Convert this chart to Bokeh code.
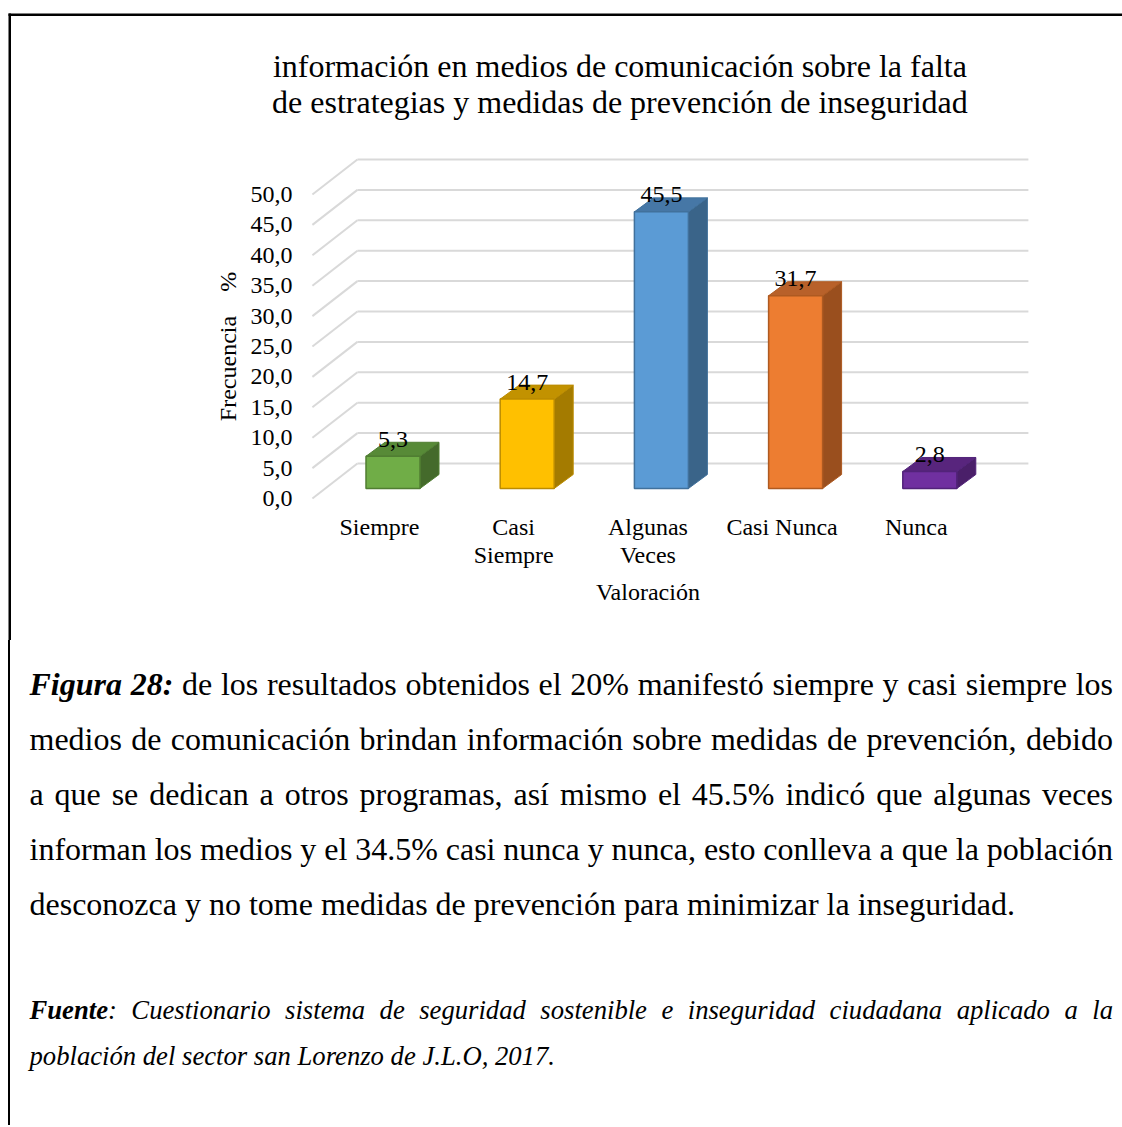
import math
from bokeh.plotting import figure
from bokeh.models import Range1d, BoxAnnotation, Div
from bokeh.layouts import column
from bokeh.core.properties import value
from bokeh.embed import file_html
from bokeh.resources import INLINE

# ---------------- data ----------------
title_lines = ["información en medios de comunicación sobre la falta",
               "de estrategias y medidas de prevención de inseguridad"]
categories = ["Siempre", "Casi Siempre", "Algunas Veces", "Casi Nunca", "Nunca"]
category_label_lines = [["Siempre"], ["Casi", "Siempre"], ["Algunas", "Veces"],
                        ["Casi Nunca"], ["Nunca"]]
frequencies = [5.3, 14.7, 45.5, 31.7, 2.8]
frequency_labels = ["5,3", "14,7", "45,5", "31,7", "2,8"]
y_ticks = [0.0, 5.0, 10.0, 15.0, 20.0, 25.0, 30.0, 35.0, 40.0, 45.0, 50.0]
y_tick_labels = ["0,0", "5,0", "10,0", "15,0", "20,0", "25,0", "30,0",
                 "35,0", "40,0", "45,0", "50,0"]
y_axis_title = "Frecuencia\u00a0\u00a0\u00a0\u00a0%"
x_axis_title = "Valoración"

front_colors = ["#70AD47", "#FFC000", "#5B9BD5", "#ED7D31", "#7030A0"]
top_colors = ["#578A37", "#C29200", "#4677A6", "#B8612A", "#58257D"]
side_colors = ["#446A2B", "#A47B00", "#3A6489", "#9A4F1E", "#4A1F69"]
edge_colors = ["#507E32", "#BC8C00", "#41719C", "#AE5A21", "#52237A"]

caption_lines = [
    "de los resultados obtenidos el 20% manifestó siempre y casi siempre los",
    "medios de comunicación brindan información sobre medidas de prevención, debido",
    "a que se dedican a otros programas, así mismo el 45.5% indicó que algunas veces",
    "informan los medios y el 34.5% casi nunca y nunca, esto conlleva a que la población",
    "desconozca y no tome medidas de prevención para minimizar la inseguridad.",
]
caption_lead = "Figura 28:"
source_lead = "Fuente"
source_lines = [
    ": Cuestionario sistema de seguridad sostenible e inseguridad ciudadana aplicado a la",
    "población del sector san Lorenzo de J.L.O, 2017.",
]

# ---------------- layout constants (pixels) ----------------
W, HF, HD = 1122, 640, 485
PX_CAT = 134.2      # pixels per category step
PX_VAL = 6.08       # pixels per percentage point
ORIGIN_X = 379.0    # canvas x of category 0 on the front plane
ORIGIN_Y = 498.0    # canvas y (from top) of 0 % on the front plane

def cx(px):
    return px / PX_CAT

def cy(px):
    return px / PX_VAL

WALL_DX, WALL_DY = cx(45), cy(35)
BAR_SX, BAR_SY = cx(13.5), cy(10)
BAR_DX, BAR_DY = cx(19), cy(14)
BAR_HW = cx(27)

FONT = value("Liberation Serif")

p = figure(width=W, height=HF, output_backend="svg", toolbar_location=None,
           x_range=Range1d(-ORIGIN_X / PX_CAT, (W - ORIGIN_X) / PX_CAT),
           y_range=Range1d(-(HF - ORIGIN_Y) / PX_VAL, ORIGIN_Y / PX_VAL),
           min_border=0, min_border_left=0, min_border_right=0,
           min_border_top=0, min_border_bottom=0)
p.axis.visible = False
p.grid.visible = False
p.outline_line_color = None
p.background_fill_color = "white"
p.border_fill_color = "white"

n = len(categories)
x_left, x_right = -0.5, n - 0.5

# back wall gridlines and side wall diagonals
p.multi_line(xs=[[x_left + WALL_DX, x_right + WALL_DX] for _ in y_ticks],
             ys=[[t + WALL_DY, t + WALL_DY] for t in y_ticks],
             line_color="#d9d9d9", line_width=2)
p.multi_line(xs=[[x_left, x_left + WALL_DX] for _ in y_ticks],
             ys=[[t, t + WALL_DY] for t in y_ticks],
             line_color="#d9d9d9", line_width=2)

# 3D bars
side_xs, side_ys, top_xs, top_ys = [], [], [], []
for i, v in enumerate(frequencies):
    l = i + BAR_SX - BAR_HW
    r = i + BAR_SX + BAR_HW
    b = BAR_SY
    t = v + BAR_SY
    side_xs.append([r, r + BAR_DX, r + BAR_DX, r])
    side_ys.append([b, b + BAR_DY, t + BAR_DY, t])
    top_xs.append([l, r, r + BAR_DX, l + BAR_DX])
    top_ys.append([t, t, t + BAR_DY, t + BAR_DY])

p.patches(xs=side_xs, ys=side_ys, fill_color=side_colors,
          line_color=edge_colors, line_width=1)
p.patches(xs=top_xs, ys=top_ys, fill_color=top_colors,
          line_color=edge_colors, line_width=1)
p.quad(left=[i + BAR_SX - BAR_HW for i in range(n)],
       right=[i + BAR_SX + BAR_HW for i in range(n)],
       bottom=[BAR_SY] * n,
       top=[v + BAR_SY for v in frequencies],
       fill_color=front_colors, line_color=edge_colors, line_width=1.5)

# value labels
p.text(x=[i + BAR_SX for i in range(n)],
       y=[v + BAR_SY + BAR_DY for v in frequencies],
       text=frequency_labels, text_font=FONT, text_font_size="24px",
       text_align="center", text_baseline="alphabetic", y_offset=-3,
       text_color="#000000")

# y tick labels
p.text(x=[x_left] * len(y_ticks), y=y_ticks, text=y_tick_labels,
       x_offset=-20, text_font=FONT, text_font_size="24px",
       text_align="right", text_baseline="middle", text_color="#000000")

# category labels
cl_x, cl_off, cl_txt = [], [], []
for i, lines in enumerate(category_label_lines):
    for k, line in enumerate(lines):
        cl_x.append(i)
        cl_off.append(28 + 28 * k)
        cl_txt.append(line)
p.text(x=cl_x, y=[0] * len(cl_x), y_offset=cl_off, text=cl_txt,
       text_font=FONT, text_font_size="24px", text_align="center",
       text_baseline="middle", text_color="#000000")

# axis titles
p.text(x=[(n - 1) / 2], y=[0], y_offset=[93], text=[x_axis_title],
       text_font=FONT, text_font_size="24px", text_align="center",
       text_baseline="middle", text_color="#000000")
p.text(x=[x_left], y=[(y_ticks[0] + y_ticks[-1]) / 2], x_offset=[-84],
       text=[y_axis_title], angle=math.pi / 2, text_font=FONT,
       text_font_size="24px", text_align="center", text_baseline="middle",
       text_color="#000000")

# chart title
p.text(x=[(n - 1) / 2, (n - 1) / 2], y=[p.y_range.end] * 2,
       x_offset=[-28, -28], y_offset=[65, 101], text=title_lines,
       text_font=FONT, text_font_size="32px", text_align="center",
       text_baseline="middle", text_color="#000000")

# page frame (top and left border)
x0 = p.x_range.start
y1 = p.y_range.end
p.add_layout(BoxAnnotation(left=x0 + cx(8), right=p.x_range.end,
                           top=y1 - cy(13), bottom=y1 - cy(15.5),
                           fill_color="black", fill_alpha=1, line_alpha=0))
p.add_layout(BoxAnnotation(left=x0 + cx(8), right=x0 + cx(10.5),
                           top=y1 - cy(13), bottom=p.y_range.start,
                           fill_color="black", fill_alpha=1, line_alpha=0))

# ---------------- caption (justified text) ----------------
def jline(txt, last=False, lead=""):
    align = "left" if last else "justify"
    ws = "0px" if last else "-3px"
    return (f'<div style="text-align:justify;text-align-last:{align};'
            f'word-spacing:{ws};white-space:normal;">{lead}{txt}</div>')

cap_html = "".join(
    jline(t, last=(k == len(caption_lines) - 1),
          lead=(f"<b><i>{caption_lead}</i></b> " if k == 0 else ""))
    for k, t in enumerate(caption_lines))
src_html = "".join(
    jline(t, last=(k == len(source_lines) - 1),
          lead=(f"<b>{source_lead}</b>" if k == 0 else ""))
    for k, t in enumerate(source_lines))

html = (
    '<div style="box-sizing:border-box;margin-left:8px;width:1105px;height:%dpx;'
    'border-left:2.5px solid #000;padding-left:19.5px;padding-top:16.7px;'
    'font-family:\'Liberation Serif\',\'Times New Roman\',serif;color:#000;">'
    '<div style="font-size:32px;line-height:55px;">%s</div>'
    '<div style="font-size:26.67px;line-height:46px;font-style:italic;'
    'margin-top:55px;">%s</div>'
    '</div>' % (HD, cap_html, src_html)
)
div = Div(text=html, width=W, height=HD, margin=0)

layout = column(p, div, spacing=0)
open("out.html", "w").write(file_html(layout, INLINE))
